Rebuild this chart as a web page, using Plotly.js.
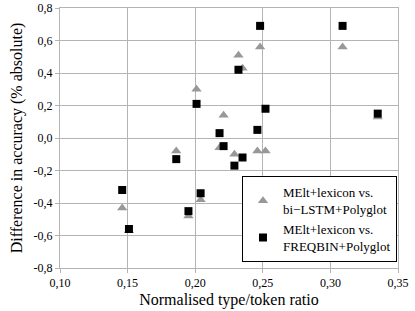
<!DOCTYPE html>
<html><head><meta charset="utf-8">
<script src="https://cdn.plot.ly/plotly-3.0.1.min.js"></script>
<style>html,body{margin:0;padding:0;background:#fff;}#chart{width:415px;height:311px;}</style>
</head><body><div id="chart"></div>
<script>
const ttr = [0.146, 0.151, 0.186, 0.195, 0.201, 0.204, 0.218, 0.221, 0.229, 0.232, 0.235, 0.246, 0.248, 0.252, 0.309, 0.335];
const vsBiLSTM = [-0.43, -0.57, -0.08, -0.48, 0.30, -0.38, -0.06, 0.14, -0.10, 0.51, 0.43, -0.08, 0.56, -0.08, 0.56, 0.13];
const vsFreqbin = [-0.32, -0.56, -0.13, -0.45, 0.21, -0.34, 0.03, -0.05, -0.17, 0.42, -0.12, 0.05, 0.69, 0.18, 0.69, 0.15];
const seriesNames = ["MElt+lexicon vs.<br>bi−LSTM+Polyglot", "MElt+lexicon vs.<br>FREQBIN+Polyglot"];
const xTickVals = [0.10, 0.15, 0.20, 0.25, 0.30, 0.35];
const xTickText = ["0,10", "0,15", "0,20", "0,25", "0,30", "0,35"];
const yTickVals = [-0.8, -0.6, -0.4, -0.2, 0.0, 0.2, 0.4, 0.6, 0.8];
const yTickText = ["-0,8", "-0,6", "-0,4", "-0,2", "0,0", "0,2", "0,4", "0,6", "0,8"];

const font = "Times New Roman";
const data = [
  {x: ttr, y: vsBiLSTM, type: 'scatter', mode: 'markers', name: seriesNames[0],
   marker: {symbol: 'triangle-up', size: 9, color: '#989898'}},
  {x: ttr, y: vsFreqbin, type: 'scatter', mode: 'markers', name: seriesNames[1],
   marker: {symbol: 'square', size: 8, color: '#000000'}}
];
const axisCommon = {showgrid: true, gridcolor: '#b4b4b4', gridwidth: 1, zeroline: false,
  showline: true, linecolor: '#b4b4b4', linewidth: 1, mirror: true,
  ticks: 'outside', ticklen: 4, tickcolor: '#b4b4b4',
  tickfont: {family: font, size: 12, color: '#000'}};
const layout = {
  width: 415, height: 311,
  margin: {l: 60, r: 17, t: 8, b: 43},
  paper_bgcolor: '#fff', plot_bgcolor: '#fff',
  font: {family: font, color: '#000'},
  showlegend: true,
  legend: {x: 0.997, y: 0.022, xanchor: 'right', yanchor: 'bottom',
    bgcolor: '#fff', bordercolor: '#000', borderwidth: 1,
    font: {family: font, size: 13, color: '#000'}, itemwidth: 30, tracegroupgap: 4},
  xaxis: Object.assign({}, axisCommon, {range: [0.10, 0.35], tickvals: xTickVals, ticktext: xTickText,
    title: {text: 'Normalised type/token ratio', font: {family: font, size: 16, color: '#000'}, standoff: 4}}),
  yaxis: Object.assign({}, axisCommon, {range: [-0.8, 0.8], tickvals: yTickVals, ticktext: yTickText,
    title: {text: 'Difference in accuracy (% absolute)', font: {family: font, size: 16, color: '#000'}, standoff: 6}})
};
Plotly.newPlot('chart', data, layout, {displayModeBar: false, staticPlot: true});
</script></body></html>
